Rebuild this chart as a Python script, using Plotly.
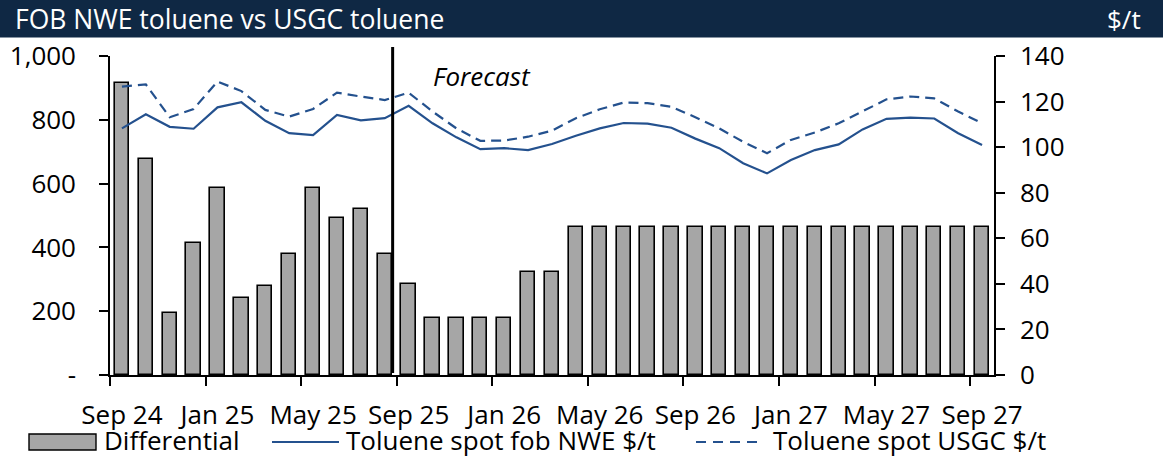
import plotly.graph_objects as go

# Monthly series, Sep 2024 - Sep 2027
month_labels = ["Sep 24", "Oct 24", "Nov 24", "Dec 24", "Jan 25", "Feb 25", "Mar 25", "Apr 25",
                "May 25", "Jun 25", "Jul 25", "Aug 25", "Sep 25", "Oct 25", "Nov 25", "Dec 25",
                "Jan 26", "Feb 26", "Mar 26", "Apr 26", "May 26", "Jun 26", "Jul 26", "Aug 26",
                "Sep 26", "Oct 26", "Nov 26", "Dec 26", "Jan 27", "Feb 27", "Mar 27", "Apr 27",
                "May 27", "Jun 27", "Jul 27", "Aug 27", "Sep 27"]

differential = [128, 95, 27, 58, 82, 34, 39, 53, 82, 69, 73, 53, 40, 25, 25, 25, 25, 45, 45,
                65, 65, 65, 65, 65, 65, 65, 65, 65, 65, 65, 65, 65, 65, 65, 65, 65, 65]

nwe_spot = [773, 817, 778, 772, 839, 855, 797, 758, 752, 815, 798, 805, 844, 789, 745, 708,
            711, 705, 724, 750, 773, 790, 788, 775, 741, 711, 664, 632, 674, 705, 723, 770,
            803, 807, 804, 758, 721]

usgc_spot = [904, 911, 808, 834, 920, 890, 831, 810, 834, 885, 873, 862, 885, 826, 773, 734,
             735, 747, 766, 805, 833, 854, 852, 841, 808, 773, 731, 695, 737, 760, 789, 826,
             864, 873, 867, 826, 789]

left_ticks = [0, 200, 400, 600, 800, 1000]
left_ticktext = ["-", "200", "400", "600", "800", "1,000"]
right_ticks = [0, 20, 40, 60, 80, 100, 120, 140]

forecast_start = 11.83  # boundary between actuals and forecast (month index)

NAVY = "#0f2844"
BLUE = "#24518e"
GREY = "#a6a6a6"
FONT = "Open Sans"

# Plot-area geometry in pixels
W, H = 1163, 458
L, R, T, B = 110, 994, 56, 375


def px(xp):
    return (xp - L) / (R - L)


def py(yp):
    return (B - yp) / (B - T)


x_mid = [i + 0.5 for i in range(len(month_labels))]

fig = go.Figure()

fig.add_trace(go.Bar(
    x=x_mid, y=differential, name="Differential", yaxis="y",
    width=0.6, marker=dict(color=GREY, line=dict(color="#000000", width=1.6)),
    showlegend=False,
))
fig.add_trace(go.Scatter(
    x=x_mid, y=nwe_spot, name="Toluene spot fob NWE $/t", yaxis="y2",
    mode="lines", line=dict(color=BLUE, width=2.2), showlegend=False,
))
fig.add_trace(go.Scatter(
    x=x_mid, y=usgc_spot, name="Toluene spot USGC $/t", yaxis="y2",
    mode="lines", line=dict(color=BLUE, width=2.2, dash="10px,6px"), showlegend=False,
))

label_vals = [x_mid[i] for i in range(0, len(month_labels), 4)]
label_text = [month_labels[i] for i in range(0, len(month_labels), 4)]
boundary_ticks = [i for i in range(0, len(month_labels), 4)]

shapes = [
    # title band
    dict(type="rect", xref="paper", yref="paper", x0=px(0), x1=px(W), y0=py(37.5), y1=py(0),
         fillcolor=NAVY, line=dict(width=0), layer="above"),
    # forecast divider
    dict(type="line", xref="x", yref="paper", x0=forecast_start, x1=forecast_start,
         y0=py(373), y1=py(47), line=dict(color="#000000", width=3), layer="above"),
    # legend keys
    dict(type="rect", xref="paper", yref="paper", x0=px(29), x1=px(96), y0=py(450), y1=py(434),
         fillcolor=GREY, line=dict(color="#000000", width=1.4)),
    dict(type="line", xref="paper", yref="paper", x0=px(272), x1=px(339), y0=py(442), y1=py(442),
         line=dict(color=BLUE, width=2.2)),
    dict(type="line", xref="paper", yref="paper", x0=px(696), x1=px(763), y0=py(442), y1=py(442),
         line=dict(color=BLUE, width=2.2, dash="10px,7px")),
]

annotations = [
    dict(text="FOB NWE toluene vs USGC toluene", xref="paper", yref="paper",
         x=px(13), y=py(19), xanchor="left", yanchor="middle", showarrow=False,
         font=dict(family=FONT, size=26.5, color="#ffffff")),
    dict(text="$/t", xref="paper", yref="paper",
         x=px(1143), y=py(19), xanchor="right", yanchor="middle", showarrow=False,
         font=dict(family=FONT, size=26, color="#ffffff")),
    dict(text="<i>Forecast</i>", xref="paper", yref="paper",
         x=px(431), y=py(76), xanchor="left", yanchor="middle", showarrow=False,
         font=dict(family=FONT, size=26, color="#000000")),
    dict(text="Differential", xref="paper", yref="paper",
         x=px(102), y=py(440), xanchor="left", yanchor="middle", showarrow=False,
         font=dict(family=FONT, size=26, color="#000000")),
    dict(text="Toluene spot fob NWE $/t", xref="paper", yref="paper",
         x=px(344), y=py(440), xanchor="left", yanchor="middle", showarrow=False,
         font=dict(family=FONT, size=26, color="#000000")),
    dict(text="Toluene spot USGC $/t", xref="paper", yref="paper",
         x=px(771), y=py(440), xanchor="left", yanchor="middle", showarrow=False,
         font=dict(family=FONT, size=26, color="#000000")),
]

fig.update_layout(
    width=W, height=H,
    margin=dict(l=L, r=W - R, t=T, b=H - B, pad=0),
    paper_bgcolor="#ffffff", plot_bgcolor="#ffffff",
    font=dict(family=FONT, size=26, color="#000000"),
    showlegend=False,
    bargap=0,
    xaxis=dict(
        range=[0, len(month_labels)], tickmode="array", tickvals=label_vals, ticktext=label_text,
        ticks="", showgrid=False, zeroline=False, showline=True, linecolor="#000000", linewidth=1.6,
        ticklabelstandoff=16, automargin=False,
        minor=dict(tickmode="array", tickvals=boundary_ticks, ticks="outside", ticklen=9,
                   tickwidth=1.6, tickcolor="#000000", showgrid=False),
    ),
    yaxis=dict(
        side="right", range=[0, 140], tickmode="array", tickvals=right_ticks,
        ticks="outside", ticklen=9, tickwidth=1.6, tickcolor="#000000",
        showline=True, linecolor="#000000", linewidth=1.6, showgrid=False, zeroline=False,
        ticklabelstandoff=10, automargin=False,
    ),
    yaxis2=dict(
        side="left", overlaying="y", range=[0, 1000], tickmode="array",
        tickvals=left_ticks, ticktext=left_ticktext,
        ticks="outside", ticklen=9, tickwidth=1.6, tickcolor="#000000",
        showline=True, linecolor="#000000", linewidth=1.6, showgrid=False, zeroline=False,
        ticklabelstandoff=18, automargin=False,
    ),
    shapes=shapes,
    annotations=annotations,
)

fig.write_html("out.html")
